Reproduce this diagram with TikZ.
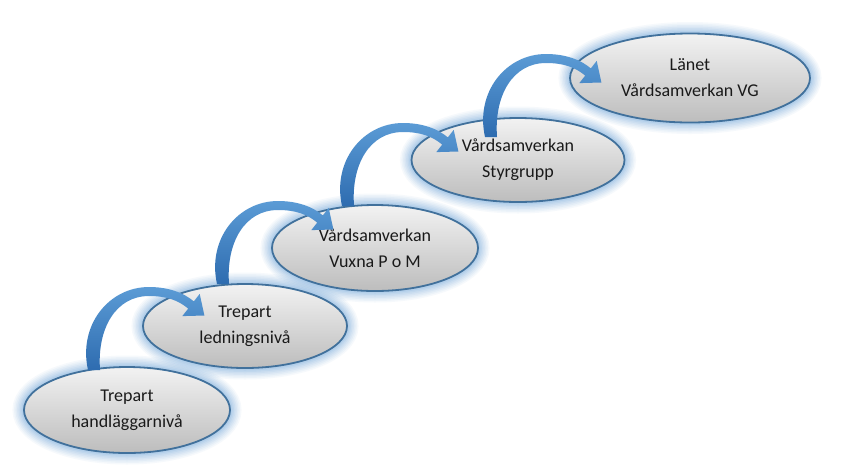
\documentclass[tikz,border=0pt]{standalone}
\usepackage{fontspec}
\setmainfont{Carlito}
\usetikzlibrary{shapes.geometric,calc}
\definecolor{bord}{HTML}{41719C}
\definecolor{glow}{HTML}{8DB8E2}
\definecolor{arrtop}{HTML}{5B9BD5}
\definecolor{arrbot}{HTML}{2E6CB0}
\definecolor{txt}{HTML}{1A1A1A}
\tikzset{
  ell/.style={ellipse, draw=bord, line width=1.8pt,
    top color=white!95!black, bottom color=white!74!black,
    preaction={draw=glow, line width=23pt, draw opacity=0.08},
    preaction={draw=glow, line width=20pt, draw opacity=0.09},
    preaction={draw=glow, line width=17pt, draw opacity=0.1},
    preaction={draw=glow, line width=14pt, draw opacity=0.12},
    preaction={draw=glow, line width=11pt, draw opacity=0.14},
    preaction={draw=glow, line width=8pt, draw opacity=0.18},
    preaction={draw=glow, line width=5pt, draw opacity=0.25},
    text=txt, font=\fontsize{18}{26}\selectfont, align=center, inner sep=0pt},
  curvarr/.pic={
    \shade[top color=arrtop, bottom color=arrbot]
      (-6,0) .. controls (-16,-45) and (15,-83) .. (55,-83)
      .. controls (75,-83) and (90,-77) .. (99.8,-68.6)
      -- (105.7,-76.1) -- (110.4,-54.5) -- (88.3,-53.9) -- (94.2,-61.4)
      .. controls (84,-70) and (72,-74) .. (55,-74)
      .. controls (22,-74) and (3,-42) .. (6,0) -- cycle;
  }
}
\begin{document}
\begin{tikzpicture}[x=1pt, y=-1pt]
\fill[white] (0,0) rectangle (848,475);
\useasboundingbox (0,0) rectangle (848,475);
\node[ell, minimum width=206pt, minimum height=86pt] (e1) at (127,410) {Trepart\\handläggarnivå};
\node[ell, minimum width=204pt, minimum height=84pt] (e2) at (245,326) {Trepart\\ledningsnivå};
\node[ell, minimum width=206pt, minimum height=86pt] (e3) at (375,248) {Vårdsamverkan\\Vuxna P o M};
\node[ell, minimum width=213pt, minimum height=84pt] (e4) at (518,160) {Vårdsamverkan\\Styrgrupp};
\node[ell, minimum width=240pt, minimum height=89pt] (e5) at (690,78) {Länet\\Vårdsamverkan VG};
\pic at ($(e1.center)+(-33,-40)$) {curvarr};
\pic at ($(e2.center)+(-22,-42)$) {curvarr};
\pic at ($(e3.center)+(-27,-42)$) {curvarr};
\pic at ($(e4.center)+(-27,-23)$) {curvarr};
\end{tikzpicture}
\end{document}
